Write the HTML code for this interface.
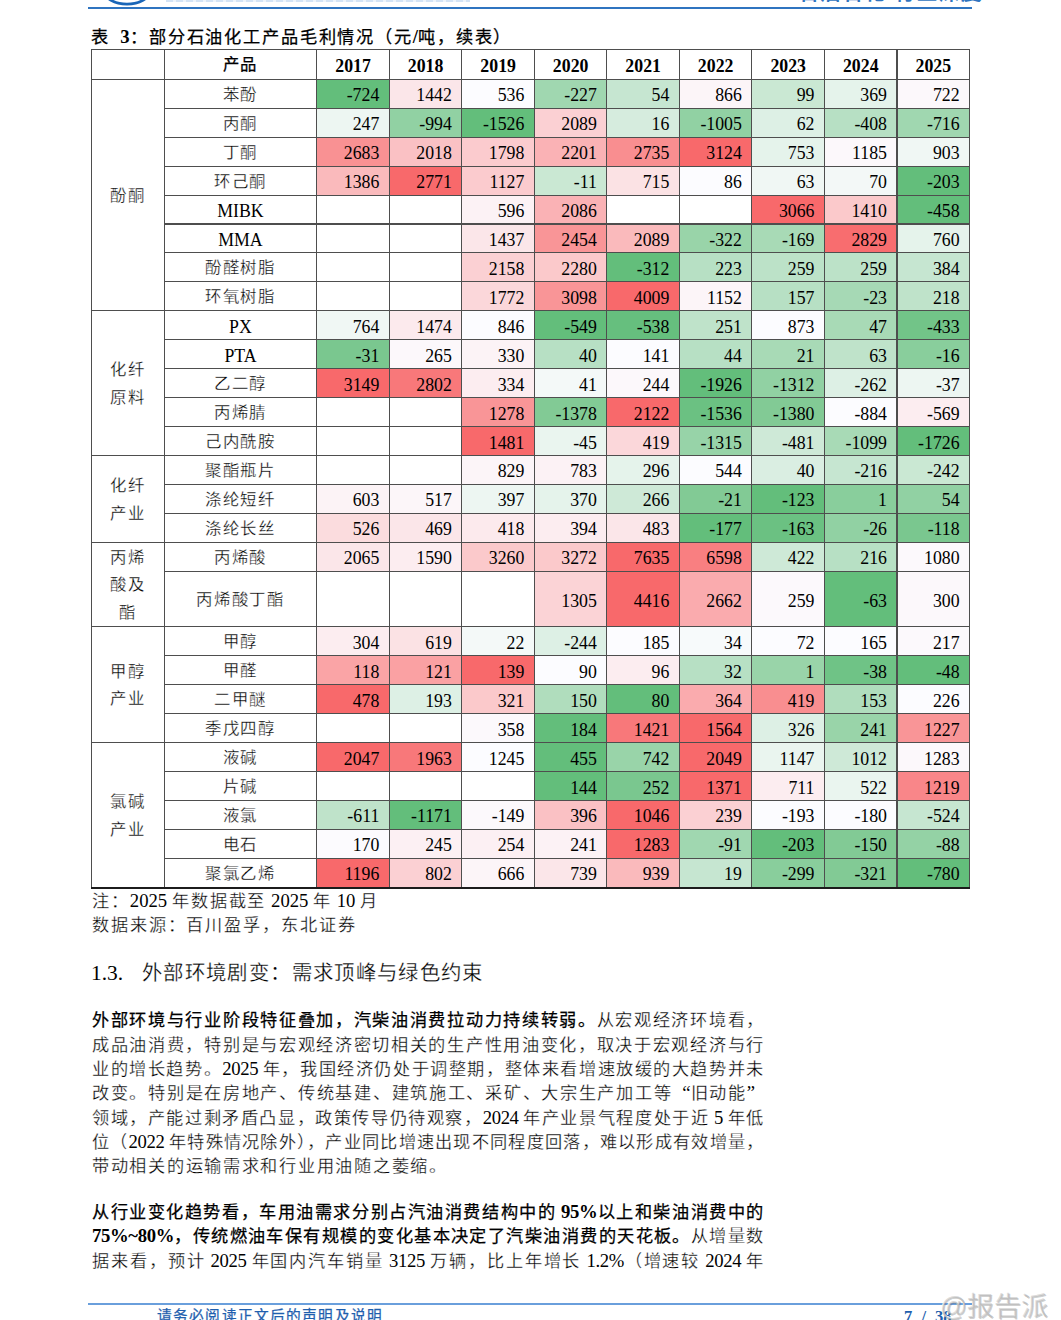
<!DOCTYPE html>
<html lang="zh-CN"><head><meta charset="utf-8"><title>page 7</title>
<style>
html,body{margin:0;padding:0;background:#fff;}
body{width:1061px;height:1320px;position:relative;overflow:hidden;font-family:"Liberation Serif",serif;color:#000;text-spacing-trim:space-all;}
.a{position:absolute;white-space:nowrap;}
.c{position:absolute;box-sizing:border-box;white-space:nowrap;font-size:17.8px;}
.n{text-align:right;padding-right:10px;}
.p{text-align:center;}
.h{text-align:center;font-weight:bold;}
.vl{position:absolute;width:1.2px;background:#4e4e4e;}
.hl{position:absolute;height:1.2px;background:#4e4e4e;}
.ln{position:absolute;left:92px;width:672.5px;white-space:nowrap;font-size:18.7px;line-height:24px;height:24px;text-align:justify;text-align-last:justify;letter-spacing:-0.35px;}
.nj{text-align:left;text-align-last:left;width:auto;}
b{font-weight:bold;}
.k{font-size:var(--fs,17.2px);letter-spacing:var(--ls,1.7px);-webkit-text-stroke:.27px #fff;}
.kb{font-size:var(--fs,17.2px);letter-spacing:var(--ls,1.7px);font-weight:normal;-webkit-text-stroke:.25px #000;}
.ln{--fs:17.2px;--ls:1.25px;}
.ln.nj{--ls:1.72px;}
.c{--fs:16.4px;--ls:1.8px;}
.c .k,.c .kb{position:relative;top:-1.5px;line-height:0;}
.q{display:inline-block;width:.95em;}

</style></head><body>

<div class="a" style="left:88px;top:7px;width:884px;height:2px;background:#2f74c0;"></div>
<svg class="a" style="left:100px;top:0" width="60" height="8" viewBox="0 0 60 8"><ellipse cx="27" cy="-9" rx="22.5" ry="13.2" fill="none" stroke="#1a66b8" stroke-width="2.8"/></svg>
<div class="a" style="left:798px;top:-17px;font-size:20px;line-height:20px;color:#2f74c0;font-weight:bold;letter-spacing:2.2px;">石油石化/行业深度</div>
<div class="a" style="left:166px;top:0;width:304px;height:1.5px;background:repeating-linear-gradient(90deg,#d3e3f5 0 7px,#eef4fb 7px 10px);"></div>
<div class="a" style="left:91px;top:25px;font-size:18.7px;line-height:24px;font-weight:bold;--fs:17.2px;--ls:1.85px;word-spacing:5.7px;"><span class="kb">表</span> 3<span class="kb">：</span><span style="display:inline-block;width:.5px"></span><span class="kb">部分石油化工产品毛利情况（元</span>/<span class="kb">吨，续表）</span></div>
<div class="c h" style="left:164.2px;top:49.8px;width:152.6px;height:29.4px;line-height:32.8px;"><span class="kb">产品</span></div>
<div class="c h" style="left:316.8px;top:49.8px;width:72.5px;height:29.4px;line-height:32.8px;">2017</div>
<div class="c h" style="left:389.3px;top:49.8px;width:72.6px;height:29.4px;line-height:32.8px;">2018</div>
<div class="c h" style="left:461.9px;top:49.8px;width:72.5px;height:29.4px;line-height:32.8px;">2019</div>
<div class="c h" style="left:534.4px;top:49.8px;width:72.5px;height:29.4px;line-height:32.8px;">2020</div>
<div class="c h" style="left:606.9px;top:49.8px;width:72.5px;height:29.4px;line-height:32.8px;">2021</div>
<div class="c h" style="left:679.4px;top:49.8px;width:72.5px;height:29.4px;line-height:32.8px;">2022</div>
<div class="c h" style="left:751.9px;top:49.8px;width:72.6px;height:29.4px;line-height:32.8px;">2023</div>
<div class="c h" style="left:824.5px;top:49.8px;width:72.5px;height:29.4px;line-height:32.8px;">2024</div>
<div class="c h" style="left:897.0px;top:49.8px;width:72.6px;height:29.4px;line-height:32.8px;">2025</div>
<div class="c p" style="left:164.2px;top:79.2px;width:152.6px;height:28.9px;line-height:32.3px;"><span class="k">苯酚</span></div>
<div class="c n" style="left:316.8px;top:79.2px;width:72.5px;height:28.9px;line-height:32.3px;background:#63be7b;">-724</div>
<div class="c n" style="left:389.3px;top:79.2px;width:72.6px;height:28.9px;line-height:32.3px;background:#fbe6e9;">1442</div>
<div class="c n" style="left:461.9px;top:79.2px;width:72.5px;height:28.9px;line-height:32.3px;background:#fcfcff;">536</div>
<div class="c n" style="left:534.4px;top:79.2px;width:72.5px;height:28.9px;line-height:32.3px;background:#a0d7b0;">-227</div>
<div class="c n" style="left:606.9px;top:79.2px;width:72.5px;height:28.9px;line-height:32.3px;background:#c6e6d1;">54</div>
<div class="c n" style="left:679.4px;top:79.2px;width:72.5px;height:28.9px;line-height:32.3px;background:#fcf5f8;">866</div>
<div class="c n" style="left:751.9px;top:79.2px;width:72.6px;height:28.9px;line-height:32.3px;background:#cae8d3;">99</div>
<div class="c n" style="left:824.5px;top:79.2px;width:72.5px;height:28.9px;line-height:32.3px;background:#e5f3eb;">369</div>
<div class="c n" style="left:897.0px;top:79.2px;width:72.6px;height:28.9px;line-height:32.3px;background:#fcf8fb;">722</div>
<div class="c p" style="left:164.2px;top:108.1px;width:152.6px;height:28.9px;line-height:32.3px;"><span class="k">丙酮</span></div>
<div class="c n" style="left:316.8px;top:108.1px;width:72.5px;height:28.9px;line-height:32.3px;background:#edf6f2;">247</div>
<div class="c n" style="left:389.3px;top:108.1px;width:72.6px;height:28.9px;line-height:32.3px;background:#91d1a3;">-994</div>
<div class="c n" style="left:461.9px;top:108.1px;width:72.5px;height:28.9px;line-height:32.3px;background:#63be7b;">-1526</div>
<div class="c n" style="left:534.4px;top:108.1px;width:72.5px;height:28.9px;line-height:32.3px;background:#fbd0d3;">2089</div>
<div class="c n" style="left:606.9px;top:108.1px;width:72.5px;height:28.9px;line-height:32.3px;background:#d6ecde;">16</div>
<div class="c n" style="left:679.4px;top:108.1px;width:72.5px;height:28.9px;line-height:32.3px;background:#91d1a3;">-1005</div>
<div class="c n" style="left:751.9px;top:108.1px;width:72.6px;height:28.9px;line-height:32.3px;background:#ddf0e5;">62</div>
<div class="c n" style="left:824.5px;top:108.1px;width:72.5px;height:28.9px;line-height:32.3px;background:#b7e0c4;">-408</div>
<div class="c n" style="left:897.0px;top:108.1px;width:72.6px;height:28.9px;line-height:32.3px;background:#a0d7b0;">-716</div>
<div class="c p" style="left:164.2px;top:137.1px;width:152.6px;height:28.9px;line-height:32.3px;"><span class="k">丁酮</span></div>
<div class="c n" style="left:316.8px;top:137.1px;width:72.5px;height:28.9px;line-height:32.3px;background:#f99193;">2683</div>
<div class="c n" style="left:389.3px;top:137.1px;width:72.6px;height:28.9px;line-height:32.3px;background:#fac1c4;">2018</div>
<div class="c n" style="left:461.9px;top:137.1px;width:72.5px;height:28.9px;line-height:32.3px;background:#fbcbce;">1798</div>
<div class="c n" style="left:534.4px;top:137.1px;width:72.5px;height:28.9px;line-height:32.3px;background:#fab2b5;">2201</div>
<div class="c n" style="left:606.9px;top:137.1px;width:72.5px;height:28.9px;line-height:32.3px;background:#f98e90;">2735</div>
<div class="c n" style="left:679.4px;top:137.1px;width:72.5px;height:28.9px;line-height:32.3px;background:#f8696b;">3124</div>
<div class="c n" style="left:751.9px;top:137.1px;width:72.6px;height:28.9px;line-height:32.3px;background:#e5f3eb;">753</div>
<div class="c n" style="left:824.5px;top:137.1px;width:72.5px;height:28.9px;line-height:32.3px;background:#fcf8fb;">1185</div>
<div class="c n" style="left:897.0px;top:137.1px;width:72.6px;height:28.9px;line-height:32.3px;background:#f0f7f4;">903</div>
<div class="c p" style="left:164.2px;top:166.0px;width:152.6px;height:28.9px;line-height:32.3px;"><span class="k">环己酮</span></div>
<div class="c n" style="left:316.8px;top:166.0px;width:72.5px;height:28.9px;line-height:32.3px;background:#fababc;">1386</div>
<div class="c n" style="left:389.3px;top:166.0px;width:72.6px;height:28.9px;line-height:32.3px;background:#f8696b;">2771</div>
<div class="c n" style="left:461.9px;top:166.0px;width:72.5px;height:28.9px;line-height:32.3px;background:#fbcbce;">1127</div>
<div class="c n" style="left:534.4px;top:166.0px;width:72.5px;height:28.9px;line-height:32.3px;background:#cae8d3;">-11</div>
<div class="c n" style="left:606.9px;top:166.0px;width:72.5px;height:28.9px;line-height:32.3px;background:#fbe2e4;">715</div>
<div class="c n" style="left:679.4px;top:166.0px;width:72.5px;height:28.9px;line-height:32.3px;background:#fcfcff;">86</div>
<div class="c n" style="left:751.9px;top:166.0px;width:72.6px;height:28.9px;line-height:32.3px;background:#f0f7f4;">63</div>
<div class="c n" style="left:824.5px;top:166.0px;width:72.5px;height:28.9px;line-height:32.3px;background:#f3f8f7;">70</div>
<div class="c n" style="left:897.0px;top:166.0px;width:72.6px;height:28.9px;line-height:32.3px;background:#63be7b;">-203</div>
<div class="c p" style="left:164.2px;top:195.0px;width:152.6px;height:28.9px;line-height:32.3px;">MIBK</div>
<div class="c n" style="left:461.9px;top:195.0px;width:72.5px;height:28.9px;line-height:32.3px;background:#fcf2f5;">596</div>
<div class="c n" style="left:534.4px;top:195.0px;width:72.5px;height:28.9px;line-height:32.3px;background:#fab2b5;">2086</div>
<div class="c n" style="left:751.9px;top:195.0px;width:72.6px;height:28.9px;line-height:32.3px;background:#f8696b;">3066</div>
<div class="c n" style="left:824.5px;top:195.0px;width:72.5px;height:28.9px;line-height:32.3px;background:#fbc9cb;">1410</div>
<div class="c n" style="left:897.0px;top:195.0px;width:72.6px;height:28.9px;line-height:32.3px;background:#63be7b;">-458</div>
<div class="c p" style="left:164.2px;top:223.9px;width:152.6px;height:28.9px;line-height:32.3px;">MMA</div>
<div class="c n" style="left:461.9px;top:223.9px;width:72.5px;height:28.9px;line-height:32.3px;background:#fbe6e9;">1437</div>
<div class="c n" style="left:534.4px;top:223.9px;width:72.5px;height:28.9px;line-height:32.3px;background:#f99597;">2454</div>
<div class="c n" style="left:606.9px;top:223.9px;width:72.5px;height:28.9px;line-height:32.3px;background:#fababc;">2089</div>
<div class="c n" style="left:679.4px;top:223.9px;width:72.5px;height:28.9px;line-height:32.3px;background:#99d4a9;">-322</div>
<div class="c n" style="left:751.9px;top:223.9px;width:72.6px;height:28.9px;line-height:32.3px;background:#a8dab6;">-169</div>
<div class="c n" style="left:824.5px;top:223.9px;width:72.5px;height:28.9px;line-height:32.3px;background:#f86d6f;">2829</div>
<div class="c n" style="left:897.0px;top:223.9px;width:72.6px;height:28.9px;line-height:32.3px;background:#e5f3eb;">760</div>
<div class="c p" style="left:164.2px;top:252.8px;width:152.6px;height:28.9px;line-height:32.3px;"><span class="k">酚醛树脂</span></div>
<div class="c n" style="left:461.9px;top:252.8px;width:72.5px;height:28.9px;line-height:32.3px;background:#fbd0d3;">2158</div>
<div class="c n" style="left:534.4px;top:252.8px;width:72.5px;height:28.9px;line-height:32.3px;background:#fbc9cb;">2280</div>
<div class="c n" style="left:606.9px;top:252.8px;width:72.5px;height:28.9px;line-height:32.3px;background:#63be7b;">-312</div>
<div class="c n" style="left:679.4px;top:252.8px;width:72.5px;height:28.9px;line-height:32.3px;background:#b7e0c4;">223</div>
<div class="c n" style="left:751.9px;top:252.8px;width:72.6px;height:28.9px;line-height:32.3px;background:#bce2c8;">259</div>
<div class="c n" style="left:824.5px;top:252.8px;width:72.5px;height:28.9px;line-height:32.3px;background:#bce2c8;">259</div>
<div class="c n" style="left:897.0px;top:252.8px;width:72.6px;height:28.9px;line-height:32.3px;background:#c6e6d1;">384</div>
<div class="c p" style="left:164.2px;top:281.8px;width:152.6px;height:28.9px;line-height:32.3px;"><span class="k">环氧树脂</span></div>
<div class="c n" style="left:461.9px;top:281.8px;width:72.5px;height:28.9px;line-height:32.3px;background:#fbd7da;">1772</div>
<div class="c n" style="left:534.4px;top:281.8px;width:72.5px;height:28.9px;line-height:32.3px;background:#f99597;">3098</div>
<div class="c n" style="left:606.9px;top:281.8px;width:72.5px;height:28.9px;line-height:32.3px;background:#f8696b;">4009</div>
<div class="c n" style="left:679.4px;top:281.8px;width:72.5px;height:28.9px;line-height:32.3px;background:#fcf5f8;">1152</div>
<div class="c n" style="left:751.9px;top:281.8px;width:72.6px;height:28.9px;line-height:32.3px;background:#b7e0c4;">157</div>
<div class="c n" style="left:824.5px;top:281.8px;width:72.5px;height:28.9px;line-height:32.3px;background:#a6d9b5;">-23</div>
<div class="c n" style="left:897.0px;top:281.8px;width:72.6px;height:28.9px;line-height:32.3px;background:#bfe3ca;">218</div>
<div class="c p" style="left:164.2px;top:310.7px;width:152.6px;height:28.9px;line-height:32.3px;">PX</div>
<div class="c n" style="left:316.8px;top:310.7px;width:72.5px;height:28.9px;line-height:32.3px;background:#f0f7f4;">764</div>
<div class="c n" style="left:389.3px;top:310.7px;width:72.6px;height:28.9px;line-height:32.3px;background:#fceaed;">1474</div>
<div class="c n" style="left:461.9px;top:310.7px;width:72.5px;height:28.9px;line-height:32.3px;background:#fcfcff;">846</div>
<div class="c n" style="left:534.4px;top:310.7px;width:72.5px;height:28.9px;line-height:32.3px;background:#63be7b;">-549</div>
<div class="c n" style="left:606.9px;top:310.7px;width:72.5px;height:28.9px;line-height:32.3px;background:#66bf7e;">-538</div>
<div class="c n" style="left:679.4px;top:310.7px;width:72.5px;height:28.9px;line-height:32.3px;background:#bfe3ca;">251</div>
<div class="c n" style="left:751.9px;top:310.7px;width:72.6px;height:28.9px;line-height:32.3px;background:#fcfcff;">873</div>
<div class="c n" style="left:824.5px;top:310.7px;width:72.5px;height:28.9px;line-height:32.3px;background:#a8dab6;">47</div>
<div class="c n" style="left:897.0px;top:310.7px;width:72.6px;height:28.9px;line-height:32.3px;background:#72c488;">-433</div>
<div class="c p" style="left:164.2px;top:339.7px;width:152.6px;height:28.9px;line-height:32.3px;">PTA</div>
<div class="c n" style="left:316.8px;top:339.7px;width:72.5px;height:28.9px;line-height:32.3px;background:#7ac78f;">-31</div>
<div class="c n" style="left:389.3px;top:339.7px;width:72.6px;height:28.9px;line-height:32.3px;background:#fcf8fb;">265</div>
<div class="c n" style="left:461.9px;top:339.7px;width:72.5px;height:28.9px;line-height:32.3px;background:#fcf3f6;">330</div>
<div class="c n" style="left:534.4px;top:339.7px;width:72.5px;height:28.9px;line-height:32.3px;background:#b7e0c4;">40</div>
<div class="c n" style="left:606.9px;top:339.7px;width:72.5px;height:28.9px;line-height:32.3px;background:#fcfcff;">141</div>
<div class="c n" style="left:679.4px;top:339.7px;width:72.5px;height:28.9px;line-height:32.3px;background:#b7e0c4;">44</div>
<div class="c n" style="left:751.9px;top:339.7px;width:72.6px;height:28.9px;line-height:32.3px;background:#a8dab6;">21</div>
<div class="c n" style="left:824.5px;top:339.7px;width:72.5px;height:28.9px;line-height:32.3px;background:#bfe3ca;">63</div>
<div class="c n" style="left:897.0px;top:339.7px;width:72.6px;height:28.9px;line-height:32.3px;background:#89ce9c;">-16</div>
<div class="c p" style="left:164.2px;top:368.6px;width:152.6px;height:28.9px;line-height:32.3px;"><span class="k">乙二醇</span></div>
<div class="c n" style="left:316.8px;top:368.6px;width:72.5px;height:28.9px;line-height:32.3px;background:#f8696b;">3149</div>
<div class="c n" style="left:389.3px;top:368.6px;width:72.6px;height:28.9px;line-height:32.3px;background:#f8787a;">2802</div>
<div class="c n" style="left:461.9px;top:368.6px;width:72.5px;height:28.9px;line-height:32.3px;background:#fcedf0;">334</div>
<div class="c n" style="left:534.4px;top:368.6px;width:72.5px;height:28.9px;line-height:32.3px;background:#f4f9f8;">41</div>
<div class="c n" style="left:606.9px;top:368.6px;width:72.5px;height:28.9px;line-height:32.3px;background:#fcf8fb;">244</div>
<div class="c n" style="left:679.4px;top:368.6px;width:72.5px;height:28.9px;line-height:32.3px;background:#63be7b;">-1926</div>
<div class="c n" style="left:751.9px;top:368.6px;width:72.6px;height:28.9px;line-height:32.3px;background:#91d1a3;">-1312</div>
<div class="c n" style="left:824.5px;top:368.6px;width:72.5px;height:28.9px;line-height:32.3px;background:#ddf0e5;">-262</div>
<div class="c n" style="left:897.0px;top:368.6px;width:72.6px;height:28.9px;line-height:32.3px;background:#edf6f2;">-37</div>
<div class="c p" style="left:164.2px;top:397.5px;width:152.6px;height:28.9px;line-height:32.3px;"><span class="k">丙烯腈</span></div>
<div class="c n" style="left:461.9px;top:397.5px;width:72.5px;height:28.9px;line-height:32.3px;background:#f99597;">1278</div>
<div class="c n" style="left:534.4px;top:397.5px;width:72.5px;height:28.9px;line-height:32.3px;background:#82ca95;">-1378</div>
<div class="c n" style="left:606.9px;top:397.5px;width:72.5px;height:28.9px;line-height:32.3px;background:#f8696b;">2122</div>
<div class="c n" style="left:679.4px;top:397.5px;width:72.5px;height:28.9px;line-height:32.3px;background:#6bc182;">-1536</div>
<div class="c n" style="left:751.9px;top:397.5px;width:72.6px;height:28.9px;line-height:32.3px;background:#82ca95;">-1380</div>
<div class="c n" style="left:824.5px;top:397.5px;width:72.5px;height:28.9px;line-height:32.3px;background:#fcfcff;">-884</div>
<div class="c n" style="left:897.0px;top:397.5px;width:72.6px;height:28.9px;line-height:32.3px;background:#fcedf0;">-569</div>
<div class="c p" style="left:164.2px;top:426.5px;width:152.6px;height:28.9px;line-height:32.3px;"><span class="k">己内酰胺</span></div>
<div class="c n" style="left:461.9px;top:426.5px;width:72.5px;height:28.9px;line-height:32.3px;background:#f8696b;">1481</div>
<div class="c n" style="left:534.4px;top:426.5px;width:72.5px;height:28.9px;line-height:32.3px;background:#eaf5ef;">-45</div>
<div class="c n" style="left:606.9px;top:426.5px;width:72.5px;height:28.9px;line-height:32.3px;background:#fbd7da;">419</div>
<div class="c n" style="left:679.4px;top:426.5px;width:72.5px;height:28.9px;line-height:32.3px;background:#97d3a8;">-1315</div>
<div class="c n" style="left:751.9px;top:426.5px;width:72.6px;height:28.9px;line-height:32.3px;background:#cee9d7;">-481</div>
<div class="c n" style="left:824.5px;top:426.5px;width:72.5px;height:28.9px;line-height:32.3px;background:#a8dab6;">-1099</div>
<div class="c n" style="left:897.0px;top:426.5px;width:72.6px;height:28.9px;line-height:32.3px;background:#63be7b;">-1726</div>
<div class="c p" style="left:164.2px;top:455.4px;width:152.6px;height:28.9px;line-height:32.3px;"><span class="k">聚酯瓶片</span></div>
<div class="c n" style="left:461.9px;top:455.4px;width:72.5px;height:28.9px;line-height:32.3px;background:#fcf5f8;">829</div>
<div class="c n" style="left:534.4px;top:455.4px;width:72.5px;height:28.9px;line-height:32.3px;background:#fcf2f5;">783</div>
<div class="c n" style="left:606.9px;top:455.4px;width:72.5px;height:28.9px;line-height:32.3px;background:#e5f3eb;">296</div>
<div class="c n" style="left:679.4px;top:455.4px;width:72.5px;height:28.9px;line-height:32.3px;background:#fcfcff;">544</div>
<div class="c n" style="left:751.9px;top:455.4px;width:72.6px;height:28.9px;line-height:32.3px;background:#daeee2;">40</div>
<div class="c n" style="left:824.5px;top:455.4px;width:72.5px;height:28.9px;line-height:32.3px;background:#c6e6d1;">-216</div>
<div class="c n" style="left:897.0px;top:455.4px;width:72.6px;height:28.9px;line-height:32.3px;background:#cae8d3;">-242</div>
<div class="c p" style="left:164.2px;top:484.4px;width:152.6px;height:28.9px;line-height:32.3px;"><span class="k">涤纶短纤</span></div>
<div class="c n" style="left:316.8px;top:484.4px;width:72.5px;height:28.9px;line-height:32.3px;background:#fcf3f6;">603</div>
<div class="c n" style="left:389.3px;top:484.4px;width:72.6px;height:28.9px;line-height:32.3px;background:#fcf6f9;">517</div>
<div class="c n" style="left:461.9px;top:484.4px;width:72.5px;height:28.9px;line-height:32.3px;background:#edf6f2;">397</div>
<div class="c n" style="left:534.4px;top:484.4px;width:72.5px;height:28.9px;line-height:32.3px;background:#e5f3eb;">370</div>
<div class="c n" style="left:606.9px;top:484.4px;width:72.5px;height:28.9px;line-height:32.3px;background:#cee9d7;">266</div>
<div class="c n" style="left:679.4px;top:484.4px;width:72.5px;height:28.9px;line-height:32.3px;background:#82ca95;">-21</div>
<div class="c n" style="left:751.9px;top:484.4px;width:72.6px;height:28.9px;line-height:32.3px;background:#63be7b;">-123</div>
<div class="c n" style="left:824.5px;top:484.4px;width:72.5px;height:28.9px;line-height:32.3px;background:#89ce9c;">1</div>
<div class="c n" style="left:897.0px;top:484.4px;width:72.6px;height:28.9px;line-height:32.3px;background:#91d1a3;">54</div>
<div class="c p" style="left:164.2px;top:513.3px;width:152.6px;height:28.9px;line-height:32.3px;"><span class="k">涤纶长丝</span></div>
<div class="c n" style="left:316.8px;top:513.3px;width:72.5px;height:28.9px;line-height:32.3px;background:#fbdcde;">526</div>
<div class="c n" style="left:389.3px;top:513.3px;width:72.6px;height:28.9px;line-height:32.3px;background:#fbe6e9;">469</div>
<div class="c n" style="left:461.9px;top:513.3px;width:72.5px;height:28.9px;line-height:32.3px;background:#fceaed;">418</div>
<div class="c n" style="left:534.4px;top:513.3px;width:72.5px;height:28.9px;line-height:32.3px;background:#fcedf0;">394</div>
<div class="c n" style="left:606.9px;top:513.3px;width:72.5px;height:28.9px;line-height:32.3px;background:#fbe6e9;">483</div>
<div class="c n" style="left:679.4px;top:513.3px;width:72.5px;height:28.9px;line-height:32.3px;background:#63be7b;">-177</div>
<div class="c n" style="left:751.9px;top:513.3px;width:72.6px;height:28.9px;line-height:32.3px;background:#6bc182;">-163</div>
<div class="c n" style="left:824.5px;top:513.3px;width:72.5px;height:28.9px;line-height:32.3px;background:#91d1a3;">-26</div>
<div class="c n" style="left:897.0px;top:513.3px;width:72.6px;height:28.9px;line-height:32.3px;background:#7ac78f;">-118</div>
<div class="c p" style="left:164.2px;top:542.2px;width:152.6px;height:29.4px;line-height:32.8px;"><span class="k">丙烯酸</span></div>
<div class="c n" style="left:316.8px;top:542.2px;width:72.5px;height:29.4px;line-height:32.8px;background:#fbe6e9;">2065</div>
<div class="c n" style="left:389.3px;top:542.2px;width:72.6px;height:29.4px;line-height:32.8px;background:#fcedf0;">1590</div>
<div class="c n" style="left:461.9px;top:542.2px;width:72.5px;height:29.4px;line-height:32.8px;background:#fbc9cb;">3260</div>
<div class="c n" style="left:534.4px;top:542.2px;width:72.5px;height:29.4px;line-height:32.8px;background:#fbc9cb;">3272</div>
<div class="c n" style="left:606.9px;top:542.2px;width:72.5px;height:29.4px;line-height:32.8px;background:#f8696b;">7635</div>
<div class="c n" style="left:679.4px;top:542.2px;width:72.5px;height:29.4px;line-height:32.8px;background:#f97f81;">6598</div>
<div class="c n" style="left:751.9px;top:542.2px;width:72.6px;height:29.4px;line-height:32.8px;background:#cee9d7;">422</div>
<div class="c n" style="left:824.5px;top:542.2px;width:72.5px;height:29.4px;line-height:32.8px;background:#b7e0c4;">216</div>
<div class="c n" style="left:897.0px;top:542.2px;width:72.6px;height:29.4px;line-height:32.8px;background:#fcf9fc;">1080</div>
<div class="c p" style="left:164.2px;top:571.6px;width:152.6px;height:55.1px;line-height:58.5px;"><span class="k">丙烯酸丁酯</span></div>
<div class="c n" style="left:534.4px;top:571.6px;width:72.5px;height:55.1px;line-height:58.5px;background:#fbd3d6;">1305</div>
<div class="c n" style="left:606.9px;top:571.6px;width:72.5px;height:55.1px;line-height:58.5px;background:#f8696b;">4416</div>
<div class="c n" style="left:679.4px;top:571.6px;width:72.5px;height:55.1px;line-height:58.5px;background:#faabae;">2662</div>
<div class="c n" style="left:751.9px;top:571.6px;width:72.6px;height:55.1px;line-height:58.5px;background:#fcf9fc;">259</div>
<div class="c n" style="left:824.5px;top:571.6px;width:72.5px;height:55.1px;line-height:58.5px;background:#63be7b;">-63</div>
<div class="c n" style="left:897.0px;top:571.6px;width:72.6px;height:55.1px;line-height:58.5px;background:#fcf8fb;">300</div>
<div class="c p" style="left:164.2px;top:626.7px;width:152.6px;height:29.0px;line-height:32.4px;"><span class="k">甲醇</span></div>
<div class="c n" style="left:316.8px;top:626.7px;width:72.5px;height:29.0px;line-height:32.4px;background:#fcedf0;">304</div>
<div class="c n" style="left:389.3px;top:626.7px;width:72.6px;height:29.0px;line-height:32.4px;background:#fbe2e4;">619</div>
<div class="c n" style="left:461.9px;top:626.7px;width:72.5px;height:29.0px;line-height:32.4px;background:#f4f9f8;">22</div>
<div class="c n" style="left:534.4px;top:626.7px;width:72.5px;height:29.0px;line-height:32.4px;background:#ddf0e5;">-244</div>
<div class="c n" style="left:606.9px;top:626.7px;width:72.5px;height:29.0px;line-height:32.4px;background:#fcfcff;">185</div>
<div class="c n" style="left:679.4px;top:626.7px;width:72.5px;height:29.0px;line-height:32.4px;background:#f7fafb;">34</div>
<div class="c n" style="left:751.9px;top:626.7px;width:72.6px;height:29.0px;line-height:32.4px;background:#fcfcff;">72</div>
<div class="c n" style="left:824.5px;top:626.7px;width:72.5px;height:29.0px;line-height:32.4px;background:#fcfcff;">165</div>
<div class="c n" style="left:897.0px;top:626.7px;width:72.6px;height:29.0px;line-height:32.4px;background:#fcf9fc;">217</div>
<div class="c p" style="left:164.2px;top:655.7px;width:152.6px;height:29.0px;line-height:32.4px;"><span class="k">甲醛</span></div>
<div class="c n" style="left:316.8px;top:655.7px;width:72.5px;height:29.0px;line-height:32.4px;background:#faa4a6;">118</div>
<div class="c n" style="left:389.3px;top:655.7px;width:72.6px;height:29.0px;line-height:32.4px;background:#faa1a3;">121</div>
<div class="c n" style="left:461.9px;top:655.7px;width:72.5px;height:29.0px;line-height:32.4px;background:#f8696b;">139</div>
<div class="c n" style="left:534.4px;top:655.7px;width:72.5px;height:29.0px;line-height:32.4px;background:#fcfcff;">90</div>
<div class="c n" style="left:606.9px;top:655.7px;width:72.5px;height:29.0px;line-height:32.4px;background:#fcedf0;">96</div>
<div class="c n" style="left:679.4px;top:655.7px;width:72.5px;height:29.0px;line-height:32.4px;background:#b7e0c4;">32</div>
<div class="c n" style="left:751.9px;top:655.7px;width:72.6px;height:29.0px;line-height:32.4px;background:#99d4a9;">1</div>
<div class="c n" style="left:824.5px;top:655.7px;width:72.5px;height:29.0px;line-height:32.4px;background:#6fc386;">-38</div>
<div class="c n" style="left:897.0px;top:655.7px;width:72.6px;height:29.0px;line-height:32.4px;background:#63be7b;">-48</div>
<div class="c p" style="left:164.2px;top:684.6px;width:152.6px;height:29.0px;line-height:32.4px;"><span class="k">二甲醚</span></div>
<div class="c n" style="left:316.8px;top:684.6px;width:72.5px;height:29.0px;line-height:32.4px;background:#f8696b;">478</div>
<div class="c n" style="left:389.3px;top:684.6px;width:72.6px;height:29.0px;line-height:32.4px;background:#ddf0e5;">193</div>
<div class="c n" style="left:461.9px;top:684.6px;width:72.5px;height:29.0px;line-height:32.4px;background:#fbc9cb;">321</div>
<div class="c n" style="left:534.4px;top:684.6px;width:72.5px;height:29.0px;line-height:32.4px;background:#b0ddbd;">150</div>
<div class="c n" style="left:606.9px;top:684.6px;width:72.5px;height:29.0px;line-height:32.4px;background:#63be7b;">80</div>
<div class="c n" style="left:679.4px;top:684.6px;width:72.5px;height:29.0px;line-height:32.4px;background:#faabae;">364</div>
<div class="c n" style="left:751.9px;top:684.6px;width:72.6px;height:29.0px;line-height:32.4px;background:#f98e90;">419</div>
<div class="c n" style="left:824.5px;top:684.6px;width:72.5px;height:29.0px;line-height:32.4px;background:#b0ddbd;">153</div>
<div class="c n" style="left:897.0px;top:684.6px;width:72.6px;height:29.0px;line-height:32.4px;background:#fcfcff;">226</div>
<div class="c p" style="left:164.2px;top:713.6px;width:152.6px;height:29.0px;line-height:32.4px;"><span class="k">季戊四醇</span></div>
<div class="c n" style="left:461.9px;top:713.6px;width:72.5px;height:29.0px;line-height:32.4px;background:#fcf9fc;">358</div>
<div class="c n" style="left:534.4px;top:713.6px;width:72.5px;height:29.0px;line-height:32.4px;background:#63be7b;">184</div>
<div class="c n" style="left:606.9px;top:713.6px;width:72.5px;height:29.0px;line-height:32.4px;background:#f8787a;">1421</div>
<div class="c n" style="left:679.4px;top:713.6px;width:72.5px;height:29.0px;line-height:32.4px;background:#f8696b;">1564</div>
<div class="c n" style="left:751.9px;top:713.6px;width:72.6px;height:29.0px;line-height:32.4px;background:#ddf0e5;">326</div>
<div class="c n" style="left:824.5px;top:713.6px;width:72.5px;height:29.0px;line-height:32.4px;background:#99d4a9;">241</div>
<div class="c n" style="left:897.0px;top:713.6px;width:72.6px;height:29.0px;line-height:32.4px;background:#f99597;">1227</div>
<div class="c p" style="left:164.2px;top:742.5px;width:152.6px;height:29.0px;line-height:32.4px;"><span class="k">液碱</span></div>
<div class="c n" style="left:316.8px;top:742.5px;width:72.5px;height:29.0px;line-height:32.4px;background:#f8696b;">2047</div>
<div class="c n" style="left:389.3px;top:742.5px;width:72.6px;height:29.0px;line-height:32.4px;background:#f8787a;">1963</div>
<div class="c n" style="left:461.9px;top:742.5px;width:72.5px;height:29.0px;line-height:32.4px;background:#fcfcff;">1245</div>
<div class="c n" style="left:534.4px;top:742.5px;width:72.5px;height:29.0px;line-height:32.4px;background:#63be7b;">455</div>
<div class="c n" style="left:606.9px;top:742.5px;width:72.5px;height:29.0px;line-height:32.4px;background:#99d4a9;">742</div>
<div class="c n" style="left:679.4px;top:742.5px;width:72.5px;height:29.0px;line-height:32.4px;background:#f8696b;">2049</div>
<div class="c n" style="left:751.9px;top:742.5px;width:72.6px;height:29.0px;line-height:32.4px;background:#eaf5ef;">1147</div>
<div class="c n" style="left:824.5px;top:742.5px;width:72.5px;height:29.0px;line-height:32.4px;background:#cee9d7;">1012</div>
<div class="c n" style="left:897.0px;top:742.5px;width:72.6px;height:29.0px;line-height:32.4px;background:#fcf8fb;">1283</div>
<div class="c p" style="left:164.2px;top:771.5px;width:152.6px;height:29.0px;line-height:32.4px;"><span class="k">片碱</span></div>
<div class="c n" style="left:534.4px;top:771.5px;width:72.5px;height:29.0px;line-height:32.4px;background:#63be7b;">144</div>
<div class="c n" style="left:606.9px;top:771.5px;width:72.5px;height:29.0px;line-height:32.4px;background:#7ac78f;">252</div>
<div class="c n" style="left:679.4px;top:771.5px;width:72.5px;height:29.0px;line-height:32.4px;background:#f8696b;">1371</div>
<div class="c n" style="left:751.9px;top:771.5px;width:72.6px;height:29.0px;line-height:32.4px;background:#fcedf0;">711</div>
<div class="c n" style="left:824.5px;top:771.5px;width:72.5px;height:29.0px;line-height:32.4px;background:#eaf5ef;">522</div>
<div class="c n" style="left:897.0px;top:771.5px;width:72.6px;height:29.0px;line-height:32.4px;background:#f98689;">1219</div>
<div class="c p" style="left:164.2px;top:800.4px;width:152.6px;height:29.0px;line-height:32.4px;"><span class="k">液氯</span></div>
<div class="c n" style="left:316.8px;top:800.4px;width:72.5px;height:29.0px;line-height:32.4px;background:#bfe3ca;">-611</div>
<div class="c n" style="left:389.3px;top:800.4px;width:72.6px;height:29.0px;line-height:32.4px;background:#63be7b;">-1171</div>
<div class="c n" style="left:461.9px;top:800.4px;width:72.5px;height:29.0px;line-height:32.4px;background:#fcf9fc;">-149</div>
<div class="c n" style="left:534.4px;top:800.4px;width:72.5px;height:29.0px;line-height:32.4px;background:#fac1c4;">396</div>
<div class="c n" style="left:606.9px;top:800.4px;width:72.5px;height:29.0px;line-height:32.4px;background:#f8696b;">1046</div>
<div class="c n" style="left:679.4px;top:800.4px;width:72.5px;height:29.0px;line-height:32.4px;background:#fbd0d3;">239</div>
<div class="c n" style="left:751.9px;top:800.4px;width:72.6px;height:29.0px;line-height:32.4px;background:#fcfcff;">-193</div>
<div class="c n" style="left:824.5px;top:800.4px;width:72.5px;height:29.0px;line-height:32.4px;background:#fcfcff;">-180</div>
<div class="c n" style="left:897.0px;top:800.4px;width:72.6px;height:29.0px;line-height:32.4px;background:#c6e6d1;">-524</div>
<div class="c p" style="left:164.2px;top:829.4px;width:152.6px;height:29.0px;line-height:32.4px;"><span class="k">电石</span></div>
<div class="c n" style="left:316.8px;top:829.4px;width:72.5px;height:29.0px;line-height:32.4px;background:#fcfbfe;">170</div>
<div class="c n" style="left:389.3px;top:829.4px;width:72.6px;height:29.0px;line-height:32.4px;background:#fcf0f3;">245</div>
<div class="c n" style="left:461.9px;top:829.4px;width:72.5px;height:29.0px;line-height:32.4px;background:#fcf0f3;">254</div>
<div class="c n" style="left:534.4px;top:829.4px;width:72.5px;height:29.0px;line-height:32.4px;background:#fcf2f5;">241</div>
<div class="c n" style="left:606.9px;top:829.4px;width:72.5px;height:29.0px;line-height:32.4px;background:#f8696b;">1283</div>
<div class="c n" style="left:679.4px;top:829.4px;width:72.5px;height:29.0px;line-height:32.4px;background:#a0d7b0;">-91</div>
<div class="c n" style="left:751.9px;top:829.4px;width:72.6px;height:29.0px;line-height:32.4px;background:#63be7b;">-203</div>
<div class="c n" style="left:824.5px;top:829.4px;width:72.5px;height:29.0px;line-height:32.4px;background:#82ca95;">-150</div>
<div class="c n" style="left:897.0px;top:829.4px;width:72.6px;height:29.0px;line-height:32.4px;background:#94d2a5;">-88</div>
<div class="c p" style="left:164.2px;top:858.3px;width:152.6px;height:29.0px;line-height:32.4px;"><span class="k">聚氯乙烯</span></div>
<div class="c n" style="left:316.8px;top:858.3px;width:72.5px;height:29.0px;line-height:32.4px;background:#f8696b;">1196</div>
<div class="c n" style="left:389.3px;top:858.3px;width:72.6px;height:29.0px;line-height:32.4px;background:#fbd0d3;">802</div>
<div class="c n" style="left:461.9px;top:858.3px;width:72.5px;height:29.0px;line-height:32.4px;background:#fcf5f8;">666</div>
<div class="c n" style="left:534.4px;top:858.3px;width:72.5px;height:29.0px;line-height:32.4px;background:#fbe6e9;">739</div>
<div class="c n" style="left:606.9px;top:858.3px;width:72.5px;height:29.0px;line-height:32.4px;background:#fababc;">939</div>
<div class="c n" style="left:679.4px;top:858.3px;width:72.5px;height:29.0px;line-height:32.4px;background:#c6e6d1;">19</div>
<div class="c n" style="left:751.9px;top:858.3px;width:72.6px;height:29.0px;line-height:32.4px;background:#89ce9c;">-299</div>
<div class="c n" style="left:824.5px;top:858.3px;width:72.5px;height:29.0px;line-height:32.4px;background:#82ca95;">-321</div>
<div class="c n" style="left:897.0px;top:858.3px;width:72.6px;height:29.0px;line-height:32.4px;background:#63be7b;">-780</div>
<div class="c p" style="left:91.3px;top:183.3px;width:72.9px;line-height:27.7px;"><span class="k">酚酮</span></div>
<div class="c p" style="left:91.3px;top:357.6px;width:72.9px;line-height:27.7px;"><span class="k">化纤</span><br><span class="k">原料</span></div>
<div class="c p" style="left:91.3px;top:473.3px;width:72.9px;line-height:27.7px;"><span class="k">化纤</span><br><span class="k">产业</span></div>
<div class="c p" style="left:91.3px;top:545.1px;width:72.9px;line-height:27.7px;"><span class="k">丙烯</span><br><span class="k">酸及</span><br><span class="k">酯</span></div>
<div class="c p" style="left:91.3px;top:659.1px;width:72.9px;line-height:27.7px;"><span class="k">甲醇</span><br><span class="k">产业</span></div>
<div class="c p" style="left:91.3px;top:789.4px;width:72.9px;line-height:27.7px;"><span class="k">氯碱</span><br><span class="k">产业</span></div>
<div class="vl" style="left:90.7px;top:49.3px;height:838.5px;"></div>
<div class="vl" style="left:163.6px;top:49.3px;height:838.5px;"></div>
<div class="vl" style="left:316.2px;top:49.3px;height:838.5px;"></div>
<div class="vl" style="left:388.7px;top:49.3px;height:838.5px;"></div>
<div class="vl" style="left:461.3px;top:49.3px;height:838.5px;"></div>
<div class="vl" style="left:533.8px;top:49.3px;height:838.5px;"></div>
<div class="vl" style="left:606.3px;top:49.3px;height:838.5px;"></div>
<div class="vl" style="left:678.8px;top:49.3px;height:838.5px;"></div>
<div class="vl" style="left:751.3px;top:49.3px;height:838.5px;"></div>
<div class="vl" style="left:823.9px;top:49.3px;height:838.5px;"></div>
<div class="vl" style="left:896.4px;top:49.3px;height:838.5px;"></div>
<div class="vl" style="left:969.0px;top:49.3px;height:838.5px;"></div>
<div class="hl" style="left:90.8px;top:49.3px;width:879.3px;"></div>
<div class="hl" style="left:90.8px;top:78.7px;width:879.3px;"></div>
<div class="hl" style="left:163.7px;top:107.6px;width:806.4px;"></div>
<div class="hl" style="left:163.7px;top:136.6px;width:806.4px;"></div>
<div class="hl" style="left:163.7px;top:165.5px;width:806.4px;"></div>
<div class="hl" style="left:163.7px;top:194.5px;width:806.4px;"></div>
<div class="hl" style="left:163.7px;top:223.4px;width:806.4px;"></div>
<div class="hl" style="left:163.7px;top:252.3px;width:806.4px;"></div>
<div class="hl" style="left:163.7px;top:281.3px;width:806.4px;"></div>
<div class="hl" style="left:90.8px;top:310.2px;width:879.3px;"></div>
<div class="hl" style="left:163.7px;top:339.2px;width:806.4px;"></div>
<div class="hl" style="left:163.7px;top:368.1px;width:806.4px;"></div>
<div class="hl" style="left:163.7px;top:397.0px;width:806.4px;"></div>
<div class="hl" style="left:163.7px;top:426.0px;width:806.4px;"></div>
<div class="hl" style="left:90.8px;top:454.9px;width:879.3px;"></div>
<div class="hl" style="left:163.7px;top:483.9px;width:806.4px;"></div>
<div class="hl" style="left:163.7px;top:512.8px;width:806.4px;"></div>
<div class="hl" style="left:90.8px;top:541.7px;width:879.3px;"></div>
<div class="hl" style="left:163.7px;top:571.1px;width:806.4px;"></div>
<div class="hl" style="left:90.8px;top:626.2px;width:879.3px;"></div>
<div class="hl" style="left:163.7px;top:655.2px;width:806.4px;"></div>
<div class="hl" style="left:163.7px;top:684.1px;width:806.4px;"></div>
<div class="hl" style="left:163.7px;top:713.1px;width:806.4px;"></div>
<div class="hl" style="left:90.8px;top:742.0px;width:879.3px;"></div>
<div class="hl" style="left:163.7px;top:771.0px;width:806.4px;"></div>
<div class="hl" style="left:163.7px;top:799.9px;width:806.4px;"></div>
<div class="hl" style="left:163.7px;top:828.9px;width:806.4px;"></div>
<div class="hl" style="left:163.7px;top:857.8px;width:806.4px;"></div>
<div class="hl" style="left:90.8px;top:886.7px;width:879.3px;height:2px;background:#1c1c1c;"></div>
<div class="a" style="left:92px;top:889px;font-size:18.7px;line-height:24px;--ls:1.9px;"><span class="k">注：</span>2025 <span class="k">年数据截至</span> 2025 <span class="k">年</span> 10 <span class="k">月</span></div>
<div class="a" style="left:92px;top:913px;font-size:18.7px;line-height:24px;--ls:1.9px;"><span class="k">数据来源：百川盈孚，东北证券</span></div>
<div class="a" style="left:91px;top:958px;font-size:21.4px;--fs:20.4px;--ls:1.35px;line-height:30px;">1.3.<span style="display:inline-block;width:19px"></span><span class="k">外部环境剧变：需求顶峰与绿色约束</span></div>
<div class="ln" style="top:1008.4px;"><b><span class="kb">外部环境与行业阶段特征叠加，汽柴油消费拉动力持续转弱。</span></b><span class="k">从宏观经济环境看，</span></div>
<div class="ln" style="top:1032.7px;"><span class="k">成品油消费，特别是与宏观经济密切相关的生产性用油变化，取决于宏观经济与行</span></div>
<div class="ln" style="top:1057.0px;"><span class="k">业的增长趋势。</span>2025 <span class="k">年，我国经济仍处于调整期，整体来看增速放缓的大趋势并未</span></div>
<div class="ln" style="top:1081.3px;"><span class="k">改变。特别是在房地产、传统基建、建筑施工、采矿、大宗生产加工等</span><span class="q" style="text-align:right;text-align-last:right">“</span><span class="k">旧动能</span><span class="q" style="text-align:left;text-align-last:left">”</span></div>
<div class="ln" style="top:1105.6px;"><span class="k">领域，产能过剩矛盾凸显，政策传导仍待观察，</span>2024 <span class="k">年产业景气程度处于近</span> 5 <span class="k">年低</span></div>
<div class="ln" style="top:1129.9px;"><span class="k">位（</span>2022 <span class="k">年特殊情况除外）</span><span style="margin-left:-0.45em"><span class="k">，</span></span><span class="k">产业同比增速出现不同程度回落，难以形成有效增量，</span></div>
<div class="ln nj" style="top:1154.2px;"><span class="k">带动相关的运输需求和行业用油随之萎缩。</span></div>
<div class="ln" style="top:1200.0px;"><b><span class="kb">从行业变化趋势看，车用油需求分别占汽油消费结构中的</span> 95%<span class="kb">以上和柴油消费中的</span></b></div>
<div class="ln" style="top:1224.3px;"><b>75%~80%<span class="kb">，传统燃油车保有规模的变化基本决定了汽柴油消费的天花板。</span></b><span class="k">从增量数</span></div>
<div class="ln" style="top:1248.6px;"><span class="k">据来看，预计</span> 2025 <span class="k">年国内汽车销量</span> 3125 <span class="k">万辆，比上年增长</span> 1.2%<span class="k">（增速较</span> 2024 <span class="k">年</span></div>
<div class="a" style="left:88px;top:1303px;width:884px;height:1.5px;background:#6a9fdc;"></div>
<div class="a" style="left:157px;top:1305px;font-size:15.9px;line-height:22px;font-weight:bold;color:#1f5fae;--fs:14.7px;--ls:1.15px;"><span class="kb" style="-webkit-text-stroke-color:#1f5fae">请务必阅读正文后的声明及说明</span></div>
<div class="a" style="left:904px;top:1306px;font-size:16.5px;line-height:22px;font-weight:bold;color:#1f5fae;word-spacing:5px;">7 / 38</div>
<div class="a" style="left:940px;top:1287px;font-family:'Liberation Sans',sans-serif;font-size:27px;line-height:40px;color:rgba(170,170,170,.42);text-shadow:.8px .8px .5px rgba(90,90,90,.3),-.6px -.6px .4px rgba(255,255,255,.9);">@报告派</div>

</body></html>
